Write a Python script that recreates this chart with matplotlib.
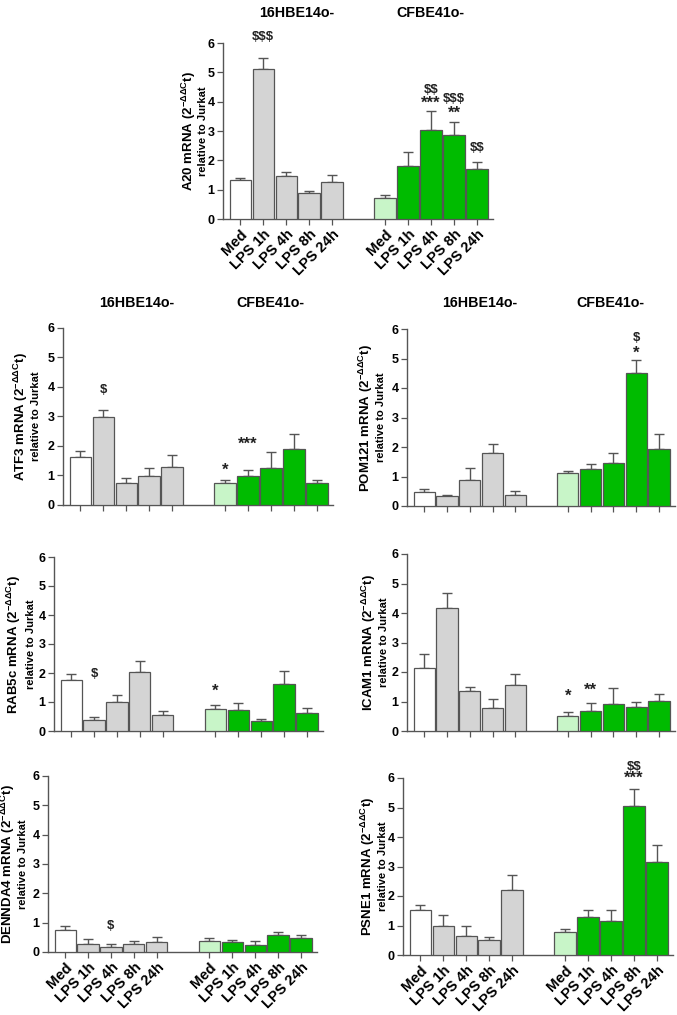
import matplotlib
matplotlib.use('Agg')
import matplotlib.pyplot as plt
import numpy as np

plt.rcParams['font.family'] = ['Liberation Sans', 'DejaVu Sans']
plt.rcParams['font.weight'] = 'bold'
plt.rcParams['mathtext.fontset'] = 'custom'
plt.rcParams['mathtext.rm'] = 'Liberation Sans:bold'
plt.rcParams['mathtext.bf'] = 'Liberation Sans:bold'
plt.rcParams['mathtext.it'] = 'Liberation Sans:bold'
plt.rcParams['mathtext.sf'] = 'Liberation Sans:bold'

conditions = ['Med', 'LPS 1h', 'LPS 4h', 'LPS 8h', 'LPS 24h']
cell_lines = ['16HBE14o-', 'CFBE41o-']

# ---- data (mean, upper SEM) ----
a20_hbe = [1.33, 5.10, 1.46, 0.87, 1.26]
a20_hbe_err = [0.08, 0.38, 0.14, 0.07, 0.25]
a20_cfbe = [0.70, 1.80, 3.03, 2.88, 1.72]
a20_cfbe_err = [0.12, 0.50, 0.65, 0.42, 0.21]

atf3_hbe = [1.64, 2.97, 0.76, 0.97, 1.30]
atf3_hbe_err = [0.18, 0.26, 0.17, 0.30, 0.41]
atf3_cfbe = [0.76, 0.97, 1.27, 1.89, 0.74]
atf3_cfbe_err = [0.09, 0.23, 0.54, 0.51, 0.12]

pom121_hbe = [0.48, 0.33, 0.89, 1.80, 0.38]
pom121_hbe_err = [0.09, 0.05, 0.41, 0.30, 0.13]
pom121_cfbe = [1.11, 1.27, 1.45, 4.50, 1.93]
pom121_cfbe_err = [0.09, 0.14, 0.33, 0.44, 0.51]

rab5c_hbe = [1.76, 0.39, 0.99, 2.03, 0.56]
rab5c_hbe_err = [0.19, 0.09, 0.25, 0.40, 0.14]
rab5c_cfbe = [0.77, 0.73, 0.34, 1.63, 0.61]
rab5c_cfbe_err = [0.14, 0.25, 0.09, 0.43, 0.18]

icam1_hbe = [2.15, 4.16, 1.37, 0.78, 1.56]
icam1_hbe_err = [0.47, 0.53, 0.13, 0.29, 0.37]
icam1_cfbe = [0.50, 0.68, 0.93, 0.83, 1.03]
icam1_cfbe_err = [0.13, 0.26, 0.53, 0.14, 0.24]

dennda4_hbe = [0.76, 0.27, 0.17, 0.27, 0.35]
dennda4_hbe_err = [0.11, 0.18, 0.09, 0.09, 0.15]
dennda4_cfbe = [0.39, 0.33, 0.25, 0.57, 0.47]
dennda4_cfbe_err = [0.09, 0.07, 0.11, 0.11, 0.10]

psne1_hbe = [1.52, 0.97, 0.63, 0.50, 2.19]
psne1_hbe_err = [0.18, 0.37, 0.34, 0.11, 0.52]
psne1_cfbe = [0.77, 1.30, 1.14, 5.06, 3.16]
psne1_cfbe_err = [0.12, 0.23, 0.37, 0.56, 0.58]

# significance marks: (group, index, text, y)
a20_marks = [(0, 1, '\\$\\$\\$', 6.2), (1, 2, '\\$\\$', 4.4), (1, 2, '***', 3.95),
             (1, 3, '\\$\\$\\$', 4.08), (1, 3, '**', 3.6), (1, 4, '\\$\\$', 2.42)]
atf3_marks = [(0, 1, '\\$', 3.9), (1, 0, '*', 1.17), (1, 1, '***', 2.07)]
pom121_marks = [(1, 3, '\\$', 5.7), (1, 3, '*', 5.17)]
rab5c_marks = [(0, 1, '\\$', 1.95), (1, 0, '*', 1.38)]
icam1_marks = [(1, 0, '*', 1.18), (1, 1, '**', 1.38)]
dennda4_marks = [(0, 2, '\\$', 0.87)]
psne1_marks = [(1, 3, '\\$\\$', 6.38), (1, 3, '***', 5.98)]

W, H = 677, 1015
fig = plt.figure(figsize=(W / 100, H / 100), dpi=100)

EDGE = '#555555'
C_WHITE = '#ffffff'
C_GRAY = '#d4d4d4'
C_LGREEN = '#c8f5c8'
C_GREEN = '#00bb00'

xs1 = np.arange(5)
xs2 = np.arange(5) + 6.3


def panel(gene, hbe, hbe_err, cfbe, cfbe_err, marks, box, lab_off,
          xlabels=False, titles=None):
    left, right, top6, bot0 = box
    ax = fig.add_axes([left / W, 1 - bot0 / H, (right - left) / W, (bot0 - top6) / H])
    ax.bar(xs1, hbe, width=0.93, color=[C_WHITE] + [C_GRAY] * 4,
           edgecolor=EDGE, linewidth=0.9, zorder=3)
    ax.bar(xs2, cfbe, width=0.93, color=[C_LGREEN] + [C_GREEN] * 4,
           edgecolor=EDGE, linewidth=0.9, zorder=3)
    ax.errorbar(xs1, hbe, yerr=[np.zeros(5), hbe_err], fmt='none',
                ecolor=EDGE, elinewidth=1.0, capsize=3.5, capthick=1.0, zorder=2)
    ax.errorbar(xs2, cfbe, yerr=[np.zeros(5), cfbe_err], fmt='none',
                ecolor=EDGE, elinewidth=1.0, capsize=3.5, capthick=1.0, zorder=2)
    ax.set_ylim(0, 6)
    ax.set_xlim(-0.75, 11.0)
    ax.set_yticks(range(7))
    ax.set_yticklabels([str(i) for i in range(7)], fontsize=9, fontweight='bold')
    ax.set_xticks(list(xs1) + list(xs2))
    if xlabels:
        ax.set_xticklabels(conditions * 2, rotation=45, ha='right',
                           rotation_mode='anchor', fontsize=10.5, fontweight='bold')
    else:
        ax.set_xticklabels([])
    for s in ['top', 'right']:
        ax.spines[s].set_visible(False)
    for s in ['left', 'bottom']:
        ax.spines[s].set_color(EDGE)
        ax.spines[s].set_linewidth(1.0)
    ax.tick_params(axis='both', length=4, width=0.9, color=EDGE, pad=2)
    ax.set_facecolor('none')
    for g, i, txt, y in marks:
        x = (xs1 if g == 0 else xs2)[i]
        fs = 12 if '*' in txt else 9.5
        ax.text(x, y, txt, ha='center', va='center', fontsize=fs,
                fontweight='bold', clip_on=False, color='#222222')
    ymid = 1 - ((top6 + bot0) / 2) / H
    fig.text((left - lab_off[0]) / W, ymid,
             gene + r' mRNA (2$^{-\Delta\Delta C}$t)', rotation=90,
             ha='center', va='center', fontsize=9.5, fontweight='bold')
    fig.text((left - lab_off[1]) / W, ymid, 'relative to Jurkat',
             rotation=90, ha='center', va='center', fontsize=8, fontweight='bold')
    if titles is not None:
        for (tx, ty), name in zip(titles, cell_lines):
            fig.text(tx / W, 1 - ty / H, name, ha='center', va='center',
                     fontsize=10.3, fontweight='bold')
    return ax


panel('A20', a20_hbe, a20_hbe_err, a20_cfbe, a20_cfbe_err, a20_marks,
      (223, 493, 43, 219), (34, 20), xlabels=True,
      titles=[(297, 13), (430, 13)])
panel('ATF3', atf3_hbe, atf3_hbe_err, atf3_cfbe, atf3_cfbe_err, atf3_marks,
      (63, 333, 328, 505), (42, 27), titles=[(137, 303), (270, 303)])
panel('POM121', pom121_hbe, pom121_hbe_err, pom121_cfbe, pom121_cfbe_err, pom121_marks,
      (407, 675, 329, 506), (41, 26), titles=[(480, 303), (610, 303)])
panel('RAB5c', rab5c_hbe, rab5c_hbe_err, rab5c_cfbe, rab5c_cfbe_err, rab5c_marks,
      (54, 323, 557, 731), (40, 23))
panel('ICAM1', icam1_hbe, icam1_hbe_err, icam1_cfbe, icam1_cfbe_err, icam1_marks,
      (407, 675, 554, 731), (38, 23))
panel('DENNDA4', dennda4_hbe, dennda4_hbe_err, dennda4_cfbe, dennda4_cfbe_err, dennda4_marks,
      (48, 317, 776, 952), (40, 25), xlabels=True)
panel('PSNE1', psne1_hbe, psne1_hbe_err, psne1_cfbe, psne1_cfbe_err, psne1_marks,
      (403, 673, 778, 955), (35, 20), xlabels=True)

fig.savefig('out.png', dpi=100, facecolor='white')
